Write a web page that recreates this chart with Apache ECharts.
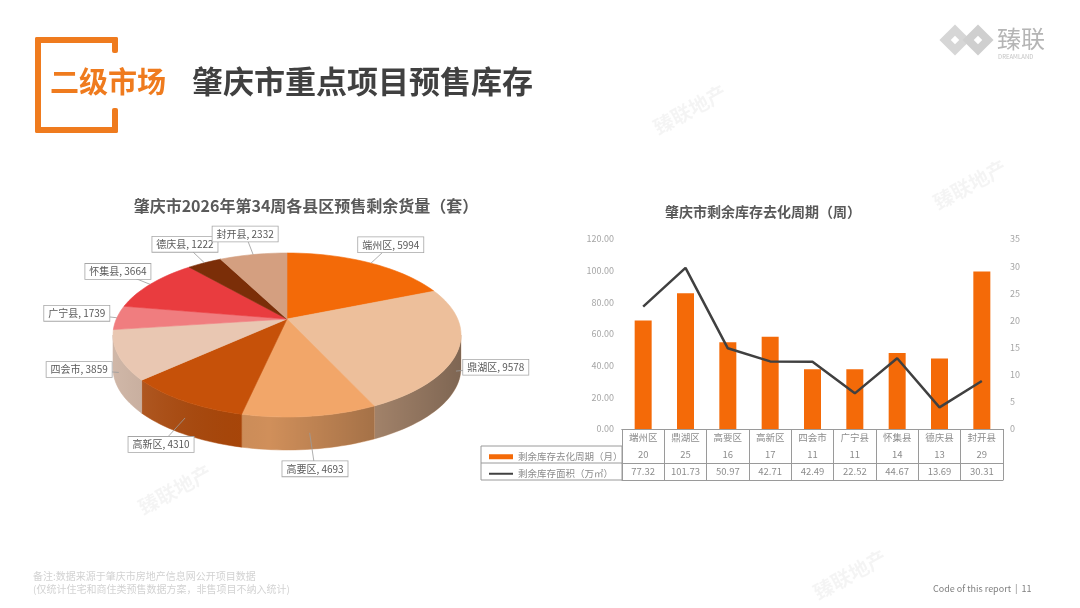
<!DOCTYPE html>
<html>
<head>
<meta charset="utf-8">
<script src="https://cdn.jsdelivr.net/npm/echarts@6/dist/echarts.min.js"></script>
<style>
  html, body { margin: 0; padding: 0; background: #fff; }
  #main { width: 1080px; height: 608px; }
</style>
</head>
<body>
<div id="main"></div>
<script>
// pie: remaining presale stock per district (sets)
const pieNames = ['端州区', '鼎湖区', '高要区', '高新区', '四会市', '广宁县', '怀集县', '德庆县', '封开县'];
const pieVals = [5994, 9578, 4693, 4310, 3859, 1739, 3664, 1222, 2332];

// bar + line: digestion cycle (months) and remaining area (10k m2)
const areas = ['端州区', '鼎湖区', '高要区', '高新区', '四会市', '广宁县', '怀集县', '德庆县', '封开县'];
const cycleMonths = [20, 25, 16, 17, 11, 11, 14, 13, 29];
const stockArea = [77.32, 101.73, 50.97, 42.71, 42.49, 22.52, 44.67, 13.69, 30.31];

const leftTicks = { min: 0, max: 120, interval: 20 };
const rightTicks = { min: 0, max: 35, interval: 5 };

const barName = '剩余库存去化周期（月）';
const lineName = '剩余库存面积（万㎡）';

// styles
const sliceColors = ['#F36A08', '#EDBF9B', '#F2A669', '#C65109', '#E9C7B2', '#F07D7F', '#E93C3F', '#7B2E08', '#D49F80'];
const FONT = '"Noto Sans CJK SC", "Noto Sans", sans-serif';
const ORANGE = '#EF7B1E';

// pie geometry (pseudo 3d)
const P = { cx: 287, cy: 335, rx: 174, ry: 82, apexDy: -16, depth: 33 };
// bar grid geometry
const G = { left: 622, right: 1003, top: 239, bottom: 429, row: 17, legendLeft: 481 };

function darken(hex, k) {
  const n = parseInt(hex.slice(1), 16);
  const r = Math.round(((n >> 16) & 255) * k), g = Math.round(((n >> 8) & 255) * k), b = Math.round((n & 255) * k);
  return 'rgb(' + r + ',' + g + ',' + b + ')';
}

function ellPt(t, dy) {
  return [P.cx + P.rx * Math.sin(t), P.cy - P.ry * Math.cos(t) + (dy || 0)];
}
function arc(a, b, dy) {
  const pts = [];
  const steps = Math.max(2, Math.ceil(Math.abs(b - a) / (Math.PI / 90)));
  for (let k = 0; k <= steps; k++) pts.push(ellPt(a + (b - a) * k / steps, dy));
  return pts;
}

const pieTotal = pieVals.reduce((s, v) => s + v, 0);
const cum = [0];
pieVals.forEach(v => cum.push(cum[cum.length - 1] + v));

const sideShade = new echarts.graphic.LinearGradient(P.cx - P.rx, 0, P.cx + P.rx, 0, [
  { offset: 0, color: 'rgba(255,255,255,0.15)' },
  { offset: 0.45, color: 'rgba(0,0,0,0)' },
  { offset: 1, color: 'rgba(0,0,0,0.38)' }
], true);

function renderSlice(params, api) {
  const i = params.dataIndex;
  const a1 = cum[i] / pieTotal * Math.PI * 2;
  const a2 = cum[i + 1] / pieTotal * Math.PI * 2;
  const children = [];
  // front wall
  const s = Math.max(a1, Math.PI / 2), e = Math.min(a2, Math.PI * 1.5);
  if (e > s) {
    const pts = arc(s, e, 0).concat(arc(e, s, P.depth));
    children.push({ type: 'polygon', shape: { points: pts }, style: { fill: darken(sliceColors[i], 0.86), stroke: darken(sliceColors[i], 0.86), lineWidth: 0.5 } });
    children.push({ type: 'polygon', shape: { points: pts }, style: { fill: sideShade } });
  }
  // top face
  const top = [[P.cx, P.cy + P.apexDy]].concat(arc(a1, a2, 0));
  children.push({ type: 'polygon', shape: { points: top }, style: { fill: sliceColors[i], stroke: sliceColors[i], lineWidth: 0.6 } });

  // label + leader
  const m = (a1 + a2) / 2;
  const front = Math.cos(m) < 0;
  const anchor = ellPt(m, front ? P.depth * 0.5 : 0);
  const lx = P.cx + 215 * Math.sin(m);
  const ly = P.cy - Math.cos(m) * (front ? 135 : 103);
  children.push({ type: 'line', z2: 20, shape: { x1: anchor[0], y1: anchor[1], x2: lx, y2: ly }, style: { stroke: '#9a9a9a', lineWidth: 0.8 } });
  children.push({
    type: 'text', z2: 30, x: lx, y: ly,
    style: {
      text: pieNames[i] + ', ' + pieVals[i], fill: '#595959', fontSize: 10, fontFamily: FONT,
      align: 'center', verticalAlign: 'middle',
      backgroundColor: '#fff', borderColor: '#a6a6a6', borderWidth: 0.8, padding: [3, 4, 2, 4]
    }
  });
  return { type: 'group', children: children };
}

const chart = echarts.init(document.getElementById('main'));

const graphics = [
  // header bracket
  { type: 'rect', shape: { x: 35, y: 37, width: 6, height: 96, r: 2 }, style: { fill: ORANGE } },
  { type: 'rect', shape: { x: 35, y: 37, width: 83, height: 6, r: 2 }, style: { fill: ORANGE } },
  { type: 'rect', shape: { x: 35, y: 127, width: 83, height: 6, r: 2 }, style: { fill: ORANGE } },
  { type: 'rect', shape: { x: 112, y: 37, width: 6, height: 16, r: 2 }, style: { fill: ORANGE } },
  { type: 'rect', shape: { x: 112, y: 108, width: 6, height: 25, r: 2 }, style: { fill: ORANGE } },
  { type: 'text', x: 50, y: 82, style: { text: '二级市场', fill: ORANGE, font: 'bold 29px ' + FONT, verticalAlign: 'middle' } },
  { type: 'text', x: 192, y: 81, style: { text: '肇庆市重点项目预售库存', fill: '#404040', font: 'bold 31px ' + FONT, verticalAlign: 'middle' } },
  // logo
  { type: 'rect', x: 955, y: 40, rotation: Math.PI / 4, shape: { x: -11, y: -11, width: 22, height: 22 }, style: { fill: '#d6d6d6' } },
  { type: 'rect', x: 978, y: 40, rotation: Math.PI / 4, shape: { x: -11, y: -11, width: 22, height: 22 }, style: { fill: '#cfcfcf' } },
  { type: 'rect', x: 955, y: 40, rotation: Math.PI / 4, shape: { x: -3, y: -3, width: 6, height: 6 }, style: { fill: '#fff' } },
  { type: 'rect', x: 978, y: 40, rotation: Math.PI / 4, shape: { x: -3, y: -3, width: 6, height: 6 }, style: { fill: '#fff' } },
  { type: 'text', x: 997, y: 39, style: { text: '臻联', fill: '#b5b5b5', font: '24px ' + FONT, verticalAlign: 'middle' } },
  { type: 'text', x: 998, y: 57, style: { text: 'DREAMLAND', fill: '#c4c4c4', font: '6px ' + FONT, verticalAlign: 'middle' } },
  // faint watermarks
  { type: 'text', x: 650, y: 120, rotation: 0.5, style: { text: '臻联地产', fill: 'rgba(0,0,0,0.045)', font: 'bold 20px ' + FONT } },
  { type: 'text', x: 930, y: 195, rotation: 0.5, style: { text: '臻联地产', fill: 'rgba(0,0,0,0.045)', font: 'bold 20px ' + FONT } },
  { type: 'text', x: 355, y: 395, rotation: 0.5, style: { text: '臻联地产', fill: 'rgba(0,0,0,0.045)', font: 'bold 20px ' + FONT } },
  { type: 'text', x: 135, y: 500, rotation: 0.5, style: { text: '臻联地产', fill: 'rgba(0,0,0,0.045)', font: 'bold 20px ' + FONT } },
  { type: 'text', x: 810, y: 585, rotation: 0.5, style: { text: '臻联地产', fill: 'rgba(0,0,0,0.045)', font: 'bold 20px ' + FONT } },
  // chart titles
  { type: 'text', x: 306, y: 206, style: { text: '肇庆市2026年第34周各县区预售剩余货量（套）', fill: '#595959', font: 'bold 16px ' + FONT, align: 'center', verticalAlign: 'middle' } },
  { type: 'text', x: 763, y: 212, style: { text: '肇庆市剩余库存去化周期（周）', fill: '#595959', font: 'bold 14px ' + FONT, align: 'center', verticalAlign: 'middle' } },
  // data table legend column
  { type: 'rect', shape: { x: G.legendLeft, y: G.bottom + G.row, width: G.left - G.legendLeft, height: G.row * 2 }, style: { fill: 'none', stroke: '#9a9a9a', lineWidth: 1 } },
  { type: 'line', shape: { x1: G.legendLeft, y1: G.bottom + G.row * 2, x2: G.left, y2: G.bottom + G.row * 2 }, style: { stroke: '#9a9a9a', lineWidth: 1 } },
  // footer
  { type: 'text', x: 33, y: 576, style: { text: '备注:数据来源于肇庆市房地产信息网公开项目数据', fill: '#d2d2d2', font: '10px ' + FONT, verticalAlign: 'middle' } },
  { type: 'text', x: 33, y: 589, style: { text: '(仅统计住宅和商住类预售数据方案，非售项目不纳入统计)', fill: '#d2d2d2', font: '10px ' + FONT, verticalAlign: 'middle' } },
  { type: 'text', x: 933, y: 589, style: { text: 'Code of this report  |  11', fill: '#7f7f7f', font: '9px ' + FONT, verticalAlign: 'middle' } }
];

function tableAxis(offset, values, showLabel) {
  return {
    type: 'category', gridIndex: 0, position: 'bottom', offset: offset,
    data: areas,
    axisLine: { show: true, lineStyle: { color: '#9a9a9a', width: 1 } },
    axisTick: { show: false },
    axisLabel: {
      show: showLabel, interval: 0, margin: 4, fontSize: 9.5, color: '#8c8c8c', fontFamily: FONT,
      formatter: (v, idx) => values ? String(values[idx]) : v
    }
  };
}

chart.setOption({
  animation: false,
  backgroundColor: '#fff',
  textStyle: { fontFamily: FONT },
  graphic: graphics,
  legend: [
    { data: [barName], left: G.legendLeft + 3, top: G.bottom + G.row + 1, itemWidth: 24, itemHeight: 5, icon: 'rect', itemGap: 2,
      textStyle: { fontSize: 9.5, color: '#8c8c8c', fontFamily: FONT } },
    { data: [{ name: lineName, icon: 'rect', itemStyle: { color: '#404040' } }], left: G.legendLeft + 3, top: G.bottom + G.row * 2 + 1,
      itemWidth: 24, itemHeight: 2, itemGap: 2,
      textStyle: { fontSize: 9.5, color: '#8c8c8c', fontFamily: FONT } }
  ],
  grid: { left: G.left, right: 1080 - G.right, top: G.top, bottom: 608 - G.bottom, containLabel: false },
  xAxis: [
    {
      type: 'category', gridIndex: 0, position: 'bottom', data: areas,
      axisLine: { show: true, lineStyle: { color: '#9a9a9a', width: 1 } },
      axisTick: { show: true, interval: 0, length: G.row * 3, lineStyle: { color: '#9a9a9a', width: 1 } },
      axisLabel: { interval: 0, margin: 4, fontSize: 9.5, color: '#8c8c8c', fontFamily: FONT }
    },
    tableAxis(G.row, cycleMonths, true),
    tableAxis(G.row * 2, stockArea.map(v => v.toFixed(2)), true),
    tableAxis(G.row * 3, null, false)
  ],
  yAxis: [
    {
      type: 'value', min: leftTicks.min, max: leftTicks.max, interval: leftTicks.interval, position: 'left',
      axisLine: { show: false }, axisTick: { show: false }, splitLine: { show: false },
      axisLabel: { fontSize: 9, color: '#a6a6a6', margin: 8, formatter: v => v.toFixed(2) }
    },
    {
      type: 'value', min: rightTicks.min, max: rightTicks.max, interval: rightTicks.interval, position: 'right',
      axisLine: { show: false }, axisTick: { show: false }, splitLine: { show: false },
      axisLabel: { fontSize: 9, color: '#a6a6a6', margin: 7 }
    }
  ],
  series: [
    {
      type: 'custom', coordinateSystem: 'none', silent: true,
      renderItem: renderSlice, data: pieVals
    },
    {
      name: barName, type: 'bar', xAxisIndex: 0, yAxisIndex: 1, data: cycleMonths,
      barWidth: 17, itemStyle: { color: '#F46A08' }
    },
    {
      name: lineName, type: 'line', xAxisIndex: 0, yAxisIndex: 0, data: stockArea, z: 5,
      symbol: 'none', lineStyle: { color: '#404040', width: 2.5 }, itemStyle: { color: '#404040' }
    }
  ]
});
</script>
</body>
</html>
